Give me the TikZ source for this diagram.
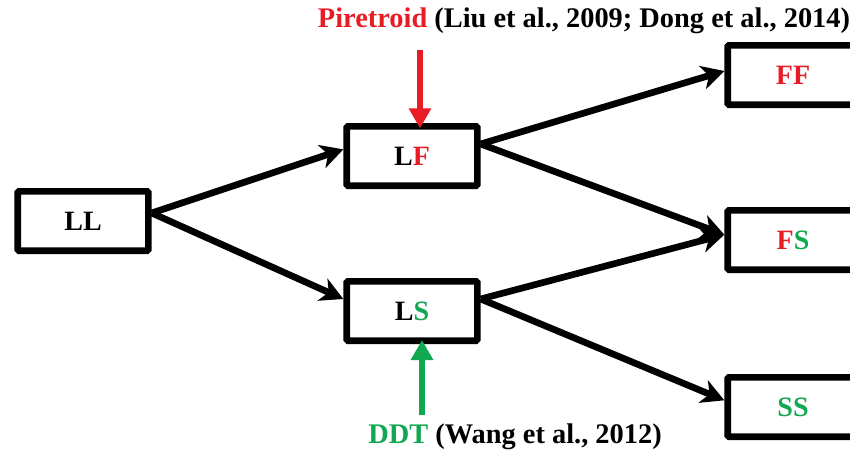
\documentclass[tikz,border=0pt]{standalone}
\usepackage{fontspec}
\setmainfont{Liberation Serif}
\usetikzlibrary{arrows.meta}

\definecolor{rge}{RGB}{232,28,36}
\definecolor{vrt}{RGB}{16,168,80}

\begin{document}
\begin{tikzpicture}[
            x=0.75pt, y=-0.75pt,
            font=\bfseries,
            boite/.style={draw=black, line width=5pt, rounded corners=1pt,
                minimum width=98pt, minimum height=44.5pt, font=\bfseries\fontsize{21}{25}\selectfont},
            fleche/.style={line width=5pt, -{Stealth[length=17pt, width=18pt, inset=5pt]}},
            fleched/.style={line width=3.8pt, -{Triangle[length=15pt, width=16pt]}},
            cite/.style={font=\bfseries\fontsize{21.3}{25}\selectfont, inner sep=0pt},
        ]
        \useasboundingbox (0,0) rectangle (850,457);
        \clip (0,0) rectangle (850,457);
        % genotypes
        \node[boite] (LL) at (83,221) {LL};
        \node[boite] (LF) at (412,156) {L\textcolor{rge}{F}};
        \node[boite] (LS) at (412,311) {L\textcolor{vrt}{S}};
        \node[boite] (FF) at (793,75) {\textcolor{rge}{FF}};
        \node[boite] (FS) at (793,240) {\textcolor{rge}{F}\textcolor{vrt}{S}};
        \node[boite] (SS) at (793,407) {\textcolor{vrt}{SS}};
        % transitions
        \draw[fleche] ([yshift=6pt]LL.east) -- ([yshift=5pt]LF.west);
        \draw[fleche] ([yshift=6pt]LL.east) -- ([yshift=9pt]LS.west);
        \draw[fleche] ([yshift=9pt]LF.east) -- ([yshift=3pt]FF.west);
        \draw[fleche] ([yshift=9pt]LF.east) -- ([yshift=4pt]FS.west);
        \draw[fleche] ([yshift=9pt]LS.east) -- ([yshift=4pt]FS.west);
        \draw[fleche] ([yshift=9pt]LS.east) -- ([yshift=5pt]SS.west);
        % selection pressure
        \node[cite] (pir) at (584,21) {\textcolor{rge}{Piretroid} (Liu et al., 2009; Dong et al., 2014)};
        \node[cite] (ddt) at (515,437) {\textcolor{vrt}{DDT} (Wang et al., 2012)};
        \coordinate (hautF) at (420,50);
        \coordinate (basS) at (422,415);
        \draw[fleched, draw=rge, fill=rge] (hautF) -- ([yshift=-4pt]hautF |- LF.north);
        \draw[fleched, draw=vrt, fill=vrt] (basS) -- ([yshift=3pt]basS |- LS.south);
    \end{tikzpicture}
\end{document}
